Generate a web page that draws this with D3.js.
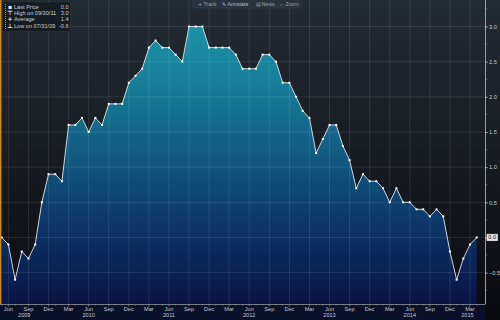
<!DOCTYPE html>
<html><head><meta charset="utf-8">
<script src="https://cdn.jsdelivr.net/npm/d3@7"></script>
<style>html,body{margin:0;padding:0;background:#0e1116;}svg{display:block;}</style>
</head><body><svg id="c" width="500" height="320"></svg>
<script>
// ---- data ----
const startMonth = "2009-05";   // first monthly observation (month-end)
const values2009 = [0.0, -0.1, -0.6, -0.2, -0.3, -0.1, 0.5, 0.9];            // May-Dec
const values2010 = [0.9, 0.8, 1.6, 1.6, 1.7, 1.5, 1.7, 1.6, 1.9, 1.9, 1.9, 2.2];
const values2011 = [2.3, 2.4, 2.7, 2.8, 2.7, 2.7, 2.6, 2.5, 3.0, 3.0, 3.0, 2.7];
const values2012 = [2.7, 2.7, 2.7, 2.6, 2.4, 2.4, 2.4, 2.6, 2.6, 2.5, 2.2, 2.2];
const values2013 = [2.0, 1.8, 1.7, 1.2, 1.4, 1.6, 1.6, 1.3, 1.1, 0.7, 0.9, 0.8];
const values2014 = [0.8, 0.7, 0.5, 0.7, 0.5, 0.5, 0.4, 0.4, 0.3, 0.4, 0.3, -0.2];
const values2015 = [-0.6, -0.3, -0.1, 0.0];                                   // Jan-Apr
const yTicks = [-0.5, 0.0, 0.5, 1.0, 1.5, 2.0, 2.5, 3.0];
const quarterLabels = ["Mar", "Jun", "Sep", "Dec"];
const legendLabels = ["Last Price", "High on 09/30/11", "Average", "Low on 07/31/09"];
const legendValues = ["0.0", "3.0", "1.4", "-0.6"];
const legendIcons = ["\u25AA", "\u22A4", "+", "\u22A5"];
const toolbarLabels = ["Track", "Annotate", "News", "Zoom"];
const toolbarIcons = ["+", "\u270E", "\u25A4", "\u2315"];
const lastPriceLabel = "0.0";

// ---- build series ----
const allValues = [].concat(values2009, values2010, values2011, values2012, values2013, values2014, values2015);
const parse = d3.timeParse("%Y-%m");
const start = parse(startMonth);
const data = allValues.map((v, i) => {
  const d = d3.timeMonth.offset(start, i);
  return { key: d3.timeFormat("%Y-%m")(d), date: d, month: d3.timeFormat("%b")(d), year: d.getFullYear(), v };
});

const W = 500, H = 320, plotR = 485, plotB = 304;
const svg = d3.select("#c");
const defs = svg.append("defs");

const bg = defs.append("linearGradient").attr("id", "bg").attr("x1", 0).attr("y1", 0).attr("x2", 0).attr("y2", 1);
bg.append("stop").attr("offset", 0).attr("stop-color", "#232b33");
bg.append("stop").attr("offset", 0.55).attr("stop-color", "#161a20");
bg.append("stop").attr("offset", 1).attr("stop-color", "#090a0e");

const ag = defs.append("linearGradient").attr("id", "ag").attr("gradientUnits", "userSpaceOnUse")
  .attr("x1", 0).attr("y1", 0).attr("x2", 0).attr("y2", plotB);
ag.append("stop").attr("offset", 0).attr("stop-color", "#1e9bae");
ag.append("stop").attr("offset", 0.3).attr("stop-color", "#167b97");
ag.append("stop").attr("offset", 0.6).attr("stop-color", "#0f4c78");
ag.append("stop").attr("offset", 0.82).attr("stop-color", "#0b2a5e");
ag.append("stop").attr("offset", 1).attr("stop-color", "#091444");

svg.append("rect").attr("width", W).attr("height", H).attr("fill", "url(#bg)");
svg.append("rect").attr("x", 0).attr("y", plotB).attr("width", plotR).attr("height", H - plotB).attr("fill", "#0a0f2a");

// ---- scales ----
const x = d3.scalePoint().domain(data.map(d => d.key)).range([1.7, 476.7]);
const y = d3.scaleLinear().domain([-0.946, 3.377]).range([plotB, 0]);

// ---- area ----
svg.append("path").datum(data)
  .attr("d", d3.area().x(d => x(d.key)).y0(plotB).y1(d => y(d.v)))
  .attr("fill", "url(#ag)");

// ---- grid ----
const grid = svg.append("g").attr("stroke", "#ffffff").attr("stroke-opacity", 0.12).attr("stroke-width", 0.8);
grid.selectAll("line.h").data(yTicks).join("line")
  .attr("x1", 0).attr("x2", plotR).attr("y1", d => y(d)).attr("y2", d => y(d));
const qData = data.filter(d => quarterLabels.includes(d.month));
grid.selectAll("line.v").data(qData).join("line")
  .attr("x1", d => x(d.key)).attr("x2", d => x(d.key)).attr("y1", 0).attr("y2", plotB);

// ---- line + markers ----
svg.append("path").datum(data)
  .attr("d", d3.line().x(d => x(d.key)).y(d => y(d.v)))
  .attr("fill", "none").attr("stroke", "#dfe6ec").attr("stroke-width", 0.9);
svg.append("g").selectAll("rect").data(data).join("rect")
  .attr("x", d => x(d.key) - 1).attr("y", d => y(d.v) - 1)
  .attr("width", 2).attr("height", 2).attr("fill", "#ffffff");

// ---- orange left edge ----
svg.append("line").attr("x1", 0.7).attr("x2", 0.7).attr("y1", 0).attr("y2", plotB)
  .attr("stroke", "#d08a1c").attr("stroke-width", 1.4);

// ---- right axis ----
const yAxis = d3.axisRight(y).tickValues(yTicks).tickFormat(d3.format(".1f")).tickSize(2.5).tickPadding(1.5);
const ya = svg.append("g").attr("transform", `translate(${plotR},0)`).call(yAxis);
ya.select(".domain").attr("stroke", "#9aa0a6").attr("d", `M0.5,0V${plotB}`);
ya.selectAll(".tick line").attr("stroke", "#b8bcc0");
ya.selectAll(".tick text").attr("fill", "#c9cdd1").style("font", "5.6px 'Liberation Sans', Arial, sans-serif");
ya.selectAll(".tick").filter(d => d === 0).select("text").attr("opacity", 0);
const minor = d3.range(-0.75, 3.3, 0.5);
ya.selectAll("line.minor").data(minor).join("line").attr("class", "minor")
  .attr("x1", 0).attr("x2", 1.6).attr("y1", d => y(d)).attr("y2", d => y(d)).attr("stroke", "#9aa0a6");

// last price tag
const lp = svg.append("g").attr("transform", `translate(${plotR + 2},${y(0)})`);
lp.append("rect").attr("x", 0).attr("y", -3.3).attr("width", 10.5).attr("height", 6.6)
  .attr("fill", "#e6e8ea").attr("stroke", "#ffffff").attr("stroke-width", 0.5);
lp.append("text").attr("x", 5.25).attr("y", 2).attr("text-anchor", "middle")
  .attr("fill", "#111").style("font", "5.6px 'Liberation Sans', Arial, sans-serif").text(lastPriceLabel);

// ---- bottom axis ----
svg.append("line").attr("x1", 0).attr("x2", plotR + 0.5).attr("y1", plotB + 0.5).attr("y2", plotB + 0.5)
  .attr("stroke", "#8f959b").attr("stroke-width", 0.8);
svg.append("g").selectAll("line").data(data).join("line")
  .attr("x1", d => x(d.key)).attr("x2", d => x(d.key))
  .attr("y1", plotB).attr("y2", d => plotB + (quarterLabels.includes(d.month) ? 2.5 : 1.5))
  .attr("stroke", "#8f959b").attr("stroke-width", 0.6);
svg.append("g").selectAll("text").data(qData).join("text")
  .attr("x", d => x(d.key)).attr("y", 311).attr("text-anchor", "middle")
  .attr("fill", "#c4c8cc").style("font", "5.6px 'Liberation Sans', Arial, sans-serif")
  .text(d => d.month);
const years = Array.from(d3.group(data, d => d.year), ([yr, arr]) => {
  const i0 = data.indexOf(arr[0]);
  const last = arr[arr.length - 1];
  const x0 = i0 > 0 ? x(data[i0 - 1].key) : 0;
  const x1 = last.month === "Dec" ? x(last.key) : plotR;
  return { yr, cx: (x0 + x1) / 2 };
});
svg.append("g").selectAll("text").data(years).join("text")
  .attr("x", d => d.cx).attr("y", 316.8).attr("text-anchor", "middle")
  .attr("fill", "#c4c8cc").style("font", "5.6px 'Liberation Sans', Arial, sans-serif")
  .text(d => d.yr);

// ---- legend box ----
const lg = svg.append("g");
lg.append("rect").attr("x", 2.5).attr("y", 2).attr("width", 68).attr("height", 29.5)
  .attr("fill", "#151b21").attr("fill-opacity", 0.92).attr("stroke", "#2d363f").attr("stroke-width", 0.6);
lg.append("line").attr("x1", 5.5).attr("x2", 5.5).attr("y1", 4).attr("y2", 29.5)
  .attr("stroke", "#8e969d").attr("stroke-width", 1).attr("stroke-dasharray", "1,1");
const rowsY = [8.6, 15.2, 21.4, 28];
lg.selectAll("text.icon").data(legendIcons).join("text").attr("class", "icon")
  .attr("x", 10).attr("y", (d, i) => rowsY[i]).attr("text-anchor", "middle")
  .attr("fill", "#e8ecef").style("font", "bold 6px 'DejaVu Sans', sans-serif").text(d => d);
lg.selectAll("text.lab").data(legendLabels).join("text").attr("class", "lab")
  .attr("x", 14).attr("y", (d, i) => rowsY[i])
  .attr("fill", "#c9ced3").style("font", "5.6px 'Liberation Sans', Arial, sans-serif").text(d => d);
lg.selectAll("text.val").data(legendValues).join("text").attr("class", "val")
  .attr("x", 68.5).attr("y", (d, i) => rowsY[i]).attr("text-anchor", "end")
  .attr("fill", "#c9ced3").style("font", "5.6px 'Liberation Sans', Arial, sans-serif").text(d => d);

// ---- toolbar ----
const tb = svg.append("g");
tb.append("rect").attr("x", 193).attr("y", -1).attr("width", 109).attr("height", 9)
  .attr("rx", 1.5).attr("fill", "#2a323b").attr("stroke", "#3a444e").attr("stroke-width", 0.5);
const tbX = [198, 222, 256, 280];
const tbCol = ["#9aa6b1", "#a9c4d8", "#9aa6b1", "#9aa6b1"];
tb.selectAll("text.ti").data(toolbarIcons).join("text").attr("class", "ti")
  .attr("x", (d, i) => tbX[i]).attr("y", 5.6).attr("fill", (d, i) => tbCol[i])
  .style("font", "5px 'DejaVu Sans', sans-serif").text(d => d);
tb.selectAll("text.tl").data(toolbarLabels).join("text").attr("class", "tl")
  .attr("x", (d, i) => tbX[i] + 5.5).attr("y", 5.6).attr("fill", (d, i) => tbCol[i])
  .style("font", "5.2px 'Liberation Sans', Arial, sans-serif").text(d => d);
</script>
</body></html>
